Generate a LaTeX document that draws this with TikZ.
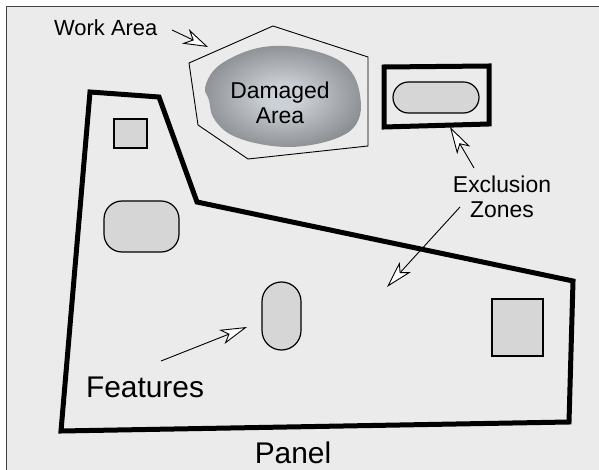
\documentclass[tikz,border=0pt]{standalone}
\usepackage{fontspec}
\setmainfont{Liberation Sans}
\usetikzlibrary{arrows.meta}
\definecolor{bgc}{HTML}{EBEBEB}
\definecolor{featc}{HTML}{D6D6D6}
\definecolor{framec}{HTML}{444444}
\definecolor{dmgin}{HTML}{CBD0D6}
\definecolor{dmgout}{HTML}{4E4E50}
\pgfdeclareradialshading{dmgshade}{\pgfpoint{0bp}{0bp}}{color(0bp)=(dmgin); color(6bp)=(dmgin); color(46bp)=(dmgout); color(72bp)=(dmgout)}
\begin{document}
\begin{tikzpicture}[x=1bp,y=-1bp,
  lbl/.style={inner sep=0pt, font=\fontsize{23}{25}\selectfont, align=center},
  biglbl/.style={inner sep=0pt, font=\fontsize{30}{34}\selectfont},
  feat/.style={draw=black, fill=featc, line width=1.2bp},
  thick outline/.style={draw=black, line width=5bp, line join=miter},
  hollow/.style={line width=0.9bp, -{Stealth[length=27bp, width=15bp, inset=7bp, fill=white]}}]
\useasboundingbox (0,0) rectangle (599,470);
\fill[white] (0,0) rectangle (599,470);
\fill[bgc] (6,7) rectangle (599,470);
\draw[framec, line width=1bp] (6,470) -- (6,7) -- (599,7);

% panel
\draw[thick outline] (90,92) -- (159,97) -- (197,202) -- (573,281) -- (569,422) -- (61,431) -- cycle;

% work area hexagon
\draw[black, line width=0.9bp] (189,63) -- (273,26) -- (368,57) -- (368,146) -- (248,159) -- (198,125) -- cycle;

% damaged area
\shade[shading=dmgshade] plot[smooth cycle, tension=0.6] coordinates {(205,88) (214,70) (233,57) (258,48) (285,46) (315,51) (340,61) (354,76) (360,95) (360,115) (350,131) (325,142) (290,147) (255,143) (228,133) (213,117) (209,100)};
\node[lbl] (dmg) at (280,102.5) {Damaged\\Area};

% exclusion zone
\draw[thick outline] (384,67) -- (489,66) -- (489,124) -- (384,127) -- cycle;
\draw[feat, rounded corners=15.5bp] (393,82) rectangle (479,113);

% features
\draw[feat] (114,119) rectangle (147,148);
\draw[feat, rounded corners=18bp] (104,201) rectangle (179,252);
\draw[feat, rounded corners=19.5bp] (262,282) rectangle (301,350);
\draw[feat] (492,299) rectangle (543,356);

% labels
\node[lbl, anchor=base west, font=\fontsize{22}{24}\selectfont] (wa) at (54,36) {Work Area};
\node[lbl] (ez) at (502,197) {Exclusion\\Zones};
\node[biglbl, anchor=base] (ft) at (145,397) {Features};
\node[biglbl, anchor=base] (pn) at (293,463) {Panel};

% arrows
\coordinate (wa1) at (172,30);
\coordinate (wa2) at (208,47);
\coordinate (ez1) at (474,168);
\coordinate (ez2) at (450,127);
\coordinate (ez3) at (460,207);
\coordinate (ez4) at (387,287);
\coordinate (ft1) at (161,361);
\coordinate (ft2) at (247,327);
\draw[hollow, -{Stealth[length=25bp, width=16bp, inset=8bp, fill=white]}] (wa1) -- (wa2);
\draw[hollow] (ez1) -- (ez2);
\draw[hollow] (ez3) -- (ez4);
\draw[hollow] (ft1) -- (ft2);
\end{tikzpicture}
\end{document}
